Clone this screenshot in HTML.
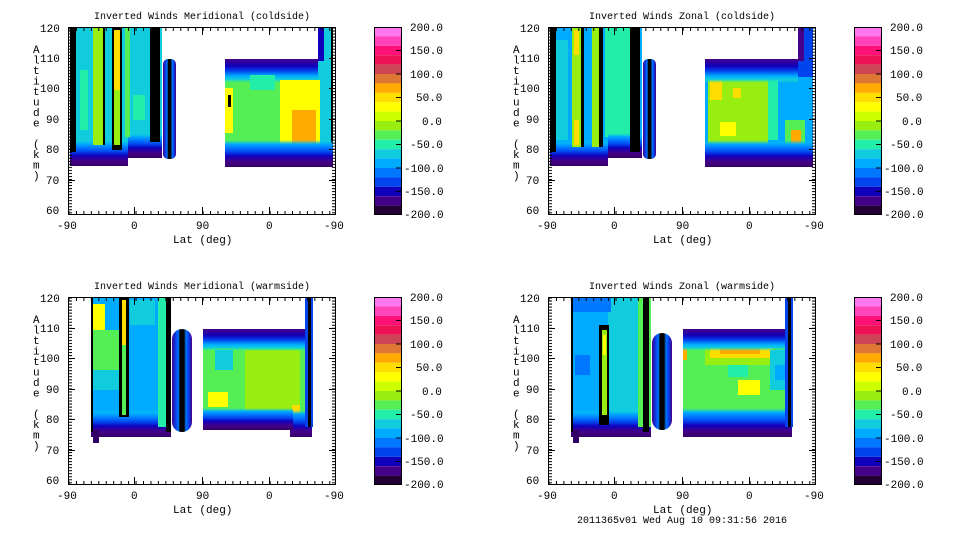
<!DOCTYPE html>
<html><head><meta charset="utf-8"><style>
html,body{margin:0;padding:0;background:#fff;}
svg{display:block;}
text{font-family:"Liberation Mono",monospace;font-size:10px;fill:#000;}
text.cb{font-size:11px;}
text.yl{font-size:11px;}
</style></head><body>
<svg width="960" height="540" viewBox="0 0 960 540" xmlns="http://www.w3.org/2000/svg">
<defs>
<linearGradient id="bot" x1="0" y1="0" x2="0" y2="1">
<stop offset="0" stop-color="#11ccdd" stop-opacity="0"/><stop offset="0.15" stop-color="#00aaff"/>
<stop offset="0.3" stop-color="#0077ff"/><stop offset="0.45" stop-color="#0044ee"/>
<stop offset="0.6" stop-color="#1100bb"/><stop offset="0.8" stop-color="#440088"/><stop offset="1" stop-color="#330066"/>
</linearGradient>
<linearGradient id="top" x1="0" y1="1" x2="0" y2="0">
<stop offset="0" stop-color="#22eeaa" stop-opacity="0"/><stop offset="0.15" stop-color="#11ccdd"/>
<stop offset="0.3" stop-color="#00aaff"/><stop offset="0.5" stop-color="#0044ee"/>
<stop offset="0.7" stop-color="#1100bb"/><stop offset="1" stop-color="#440088"/>
</linearGradient>
<linearGradient id="ell" x1="0" y1="0" x2="1" y2="0">
<stop offset="0" stop-color="#440088"/><stop offset="0.2" stop-color="#0044ee"/><stop offset="0.32" stop-color="#0077ff"/><stop offset="0.4" stop-color="#000"/>
<stop offset="0.6" stop-color="#000"/><stop offset="0.7" stop-color="#0077ff"/><stop offset="0.82" stop-color="#0044ee"/><stop offset="1" stop-color="#440088"/>
</linearGradient>
<pattern id="yt" x="0" y="27.5" width="4" height="3.03" patternUnits="userSpaceOnUse"><rect x="0" y="0" width="4" height="1" fill="#000"/></pattern>
<pattern id="xt" x="68.5" y="0" width="7.45" height="4" patternUnits="userSpaceOnUse"><rect x="0" y="0" width="1" height="4" fill="#000"/></pattern>
<g id="cbar">
<rect x="374" y="27" width="28" height="9.4" fill="#ff77ee"/>
<rect x="374" y="36.4" width="28" height="9.4" fill="#ff44bb"/>
<rect x="374" y="45.8" width="28" height="9.4" fill="#ff1177"/>
<rect x="374" y="55.2" width="28" height="9.4" fill="#ee1155"/>
<rect x="374" y="64.6" width="28" height="9.4" fill="#cc4455"/>
<rect x="374" y="74" width="28" height="9.4" fill="#dd7733"/>
<rect x="374" y="83.4" width="28" height="9.4" fill="#ffaa00"/>
<rect x="374" y="92.8" width="28" height="9.4" fill="#ffdd00"/>
<rect x="374" y="102.2" width="28" height="9.4" fill="#ffff00"/>
<rect x="374" y="111.6" width="28" height="9.4" fill="#ccff00"/>
<rect x="374" y="121" width="28" height="9.4" fill="#99ee11"/>
<rect x="374" y="130.4" width="28" height="9.4" fill="#55ee55"/>
<rect x="374" y="139.8" width="28" height="9.4" fill="#22eeaa"/>
<rect x="374" y="149.2" width="28" height="9.4" fill="#11ccdd"/>
<rect x="374" y="158.6" width="28" height="9.4" fill="#00aaff"/>
<rect x="374" y="168" width="28" height="9.4" fill="#0077ff"/>
<rect x="374" y="177.4" width="28" height="9.4" fill="#0044ee"/>
<rect x="374" y="186.8" width="28" height="9.4" fill="#1100bb"/>
<rect x="374" y="196.2" width="28" height="9.4" fill="#440088"/>
<rect x="374" y="205.6" width="28" height="9.4" fill="#220033"/>
<rect x="374.5" y="27.5" width="27" height="187" fill="none" stroke="#000"/>
<path d="M396 50.5h6M396 74h6M396 97.5h6M396 121h6M396 144.5h6M396 168h6M396 191.5h6" stroke="#000"/>
<text class="cb" x="410" y="31">200.0</text><text class="cb" x="410" y="54">150.0</text><text class="cb" x="410" y="78">100.0</text>
<text class="cb" x="416" y="101">50.0</text><text class="cb" x="422" y="125">0.0</text><text class="cb" x="410" y="148">-50.0</text>
<text class="cb" x="404" y="172">-100.0</text><text class="cb" x="404" y="195">-150.0</text><text class="cb" x="404" y="218">-200.0</text>
</g>
<g id="axes">
<rect x="68.5" y="27.5" width="267" height="187" fill="none" stroke="#000"/>
<rect x="68" y="27" width="4" height="188" fill="url(#yt)"/>
<rect x="332" y="27" width="4" height="188" fill="url(#yt)"/>
<rect x="68" y="27" width="268" height="4" fill="url(#xt)"/>
<rect x="68" y="211" width="268" height="4" fill="url(#xt)"/>
<path d="M68 58.5h7M68 88.5h7M68 119.5h7M68 149.5h7M68 180.5h7M329 58.5h7M329 88.5h7M329 119.5h7M329 149.5h7M329 180.5h7M134.5 207v8M202.5 207v8M269.5 207v8M134.5 27v8M202.5 27v8M269.5 27v8" stroke="#000"/>
<text class="yl" x="40" y="32">120</text><text class="yl" x="40" y="62">110</text><text class="yl" x="40" y="92">100</text>
<text class="yl" x="46" y="123">90</text><text class="yl" x="46" y="153">80</text><text class="yl" x="46" y="184">70</text><text class="yl" x="46" y="214">60</text>
<text class="yl" x="57" y="229">-90</text><text class="yl" x="131" y="229">0</text><text class="yl" x="196" y="229">90</text><text class="yl" x="266" y="229">0</text><text class="yl" x="324" y="229">-90</text>
<text class="yl" x="173" y="243">Lat (deg)</text>
<text class="yl" x="33" y="53">A<tspan x="33" dy="10.5">l</tspan><tspan x="33" dy="10.5">t</tspan><tspan x="33" dy="10.5">i</tspan><tspan x="33" dy="10.5">t</tspan><tspan x="33" dy="10.5">u</tspan><tspan x="33" dy="10.5">d</tspan><tspan x="33" dy="10.5">e</tspan><tspan x="33" dy="21">(</tspan><tspan x="33" dy="10.5">k</tspan><tspan x="33" dy="10.5">m</tspan><tspan x="33" dy="10.5">)</tspan></text>
</g>
</defs>

<!-- Panel 1 TL -->
<g>
<rect x="70" y="27" width="92" height="139" fill="#11ccdd"/>
<rect x="128" y="158" width="34" height="10" fill="#fff"/>
<rect x="70" y="140" width="58" height="26" fill="url(#bot)"/>
<rect x="128" y="133" width="34" height="25" fill="url(#bot)"/>
<rect x="70" y="27" width="6" height="125" fill="#000"/>
<rect x="80" y="70" width="8" height="60" fill="#22eeaa"/>
<rect x="93" y="27" width="10" height="118" fill="#99ee11"/>
<rect x="103" y="27" width="2" height="118" fill="#000"/>
<rect x="112" y="27" width="10" height="123" fill="#000"/>
<rect x="114" y="30" width="6" height="60" fill="#ffdd00"/>
<rect x="114" y="90" width="6" height="55" fill="#99ee11"/>
<rect x="125" y="27" width="5" height="110" fill="#55ee55"/>
<rect x="133" y="95" width="12" height="25" fill="#22eeaa"/>
<rect x="150" y="27" width="10" height="115" fill="#000"/>
<rect x="163" y="59" width="13" height="100" rx="5" fill="url(#ell)"/>
<rect x="225" y="59" width="93" height="108" fill="#55ee55"/>
<rect x="225" y="59" width="93" height="24" fill="url(#top)"/>
<rect x="318" y="27" width="15" height="140" fill="#11ccdd"/>
<rect x="318" y="27" width="6" height="34" fill="#1100bb"/>
<rect x="331" y="27" width="2" height="140" fill="#000"/>
<rect x="280" y="80" width="40" height="64" fill="#ffff00"/>
<rect x="292" y="110" width="24" height="35" fill="#ffaa00"/>
<rect x="225" y="88" width="8" height="45" fill="#ffff00"/>
<rect x="228" y="95" width="3" height="12" fill="#000"/>
<rect x="250" y="75" width="25" height="15" fill="#22eeaa"/>
<rect x="225" y="140" width="108" height="27" fill="url(#bot)"/>
<use href="#axes"/><use href="#cbar"/>
<text x="94" y="19">Inverted Winds Meridional (coldside)</text>
</g>

<!-- Panel 2 TR -->
<g transform="translate(480,0)">
<rect x="70" y="27" width="92" height="139" fill="#00aaff"/>
<rect x="128" y="158" width="34" height="10" fill="#fff"/>
<rect x="125" y="27" width="28" height="110" fill="#22eeaa"/>
<rect x="76" y="40" width="12" height="100" fill="#11ccdd"/>
<rect x="70" y="140" width="58" height="26" fill="url(#bot)"/>
<rect x="128" y="133" width="34" height="25" fill="url(#bot)"/>
<rect x="70" y="27" width="6" height="125" fill="#000"/>
<rect x="92" y="27" width="10" height="120" fill="#99ee11"/>
<rect x="94" y="30" width="5" height="25" fill="#ffdd00"/>
<rect x="94" y="120" width="5" height="25" fill="#ffdd00"/>
<rect x="101" y="27" width="3" height="120" fill="#000"/>
<rect x="112" y="27" width="10" height="120" fill="#99ee11"/>
<rect x="119" y="27" width="4" height="120" fill="#000"/>
<rect x="150" y="27" width="10" height="125" fill="#000"/>
<rect x="163" y="59" width="13" height="100" rx="5" fill="url(#ell)"/>
<rect x="225" y="59" width="108" height="108" fill="#00aaff"/>
<rect x="228" y="75" width="60" height="70" fill="#99ee11"/>
<rect x="288" y="80" width="10" height="60" fill="#22eeaa"/>
<rect x="230" y="80" width="12" height="20" fill="#ffdd00"/>
<rect x="240" y="122" width="16" height="14" fill="#ffff00"/>
<rect x="253" y="88" width="8" height="10" fill="#ffdd00"/>
<rect x="305" y="120" width="20" height="25" fill="#55ee55"/>
<rect x="311" y="130" width="10" height="16" fill="#ffaa00"/>
<rect x="225" y="59" width="93" height="24" fill="url(#top)"/>
<rect x="318" y="27" width="15" height="50" fill="#0044ee"/>
<rect x="318" y="27" width="6" height="34" fill="#440088"/>
<rect x="225" y="140" width="108" height="27" fill="url(#bot)"/>
<use href="#axes"/><use href="#cbar"/>
<text x="109" y="19">Inverted Winds Zonal (coldside)</text>
</g>

<!-- Panel 3 BL -->
<g transform="translate(0,270)">
<rect x="91" y="27" width="80" height="140" fill="#00aaff"/>
<rect x="91" y="60" width="30" height="40" fill="#55ee55"/>
<rect x="91" y="100" width="30" height="20" fill="#11ccdd"/>
<rect x="130" y="30" width="25" height="25" fill="#11ccdd"/>
<rect x="93" y="34" width="12" height="26" fill="#ffff00"/>
<rect x="91" y="140" width="80" height="27" fill="url(#bot)"/>
<rect x="93" y="160" width="6" height="13" fill="#330066"/>
<rect x="91" y="27" width="2" height="135" fill="#000"/>
<rect x="119" y="27" width="10" height="120" fill="#000"/>
<rect x="122" y="30" width="4" height="45" fill="#ffdd00"/>
<rect x="122" y="75" width="4" height="70" fill="#55ee55"/>
<rect x="158" y="27" width="13" height="130" fill="#22eeaa"/>
<rect x="166" y="27" width="5" height="135" fill="#000"/>
<rect x="172" y="59" width="20" height="103" rx="10" fill="url(#ell)"/>
<rect x="203" y="59" width="109" height="100" fill="#55ee55"/>
<rect x="245" y="80" width="55" height="60" fill="#99ee11"/>
<rect x="215" y="80" width="18" height="20" fill="#11ccdd"/>
<rect x="208" y="122" width="20" height="15" fill="#ffff00"/>
<rect x="292" y="135" width="8" height="8" fill="#ffdd00"/>
<rect x="203" y="59" width="109" height="22" fill="url(#top)"/>
<rect x="290" y="140" width="22" height="27" fill="url(#bot)"/>
<rect x="203" y="138" width="90" height="22" fill="url(#bot)"/>
<rect x="305" y="27" width="8" height="130" fill="#0044ee"/>
<rect x="308" y="27" width="3" height="130" fill="#000"/>
<use href="#axes"/><use href="#cbar"/>
<text x="94" y="19">Inverted Winds Meridional (warmside)</text>
</g>

<!-- Panel 4 BR -->
<g transform="translate(480,270)">
<rect x="91" y="27" width="80" height="140" fill="#00aaff"/>
<rect x="128" y="27" width="32" height="125" fill="#11ccdd"/>
<rect x="95" y="85" width="15" height="20" fill="#0077ff"/>
<rect x="91" y="27" width="40" height="15" fill="#0077ff"/>
<rect x="91" y="140" width="80" height="27" fill="url(#bot)"/>
<rect x="93" y="160" width="6" height="13" fill="#330066"/>
<rect x="91" y="27" width="2" height="135" fill="#000"/>
<rect x="119" y="55" width="10" height="100" fill="#000"/>
<rect x="122" y="60" width="5" height="85" fill="#99ee11"/>
<rect x="123" y="65" width="3" height="20" fill="#ffff00"/>
<rect x="158" y="27" width="13" height="130" fill="#55ee55"/>
<rect x="163" y="27" width="6" height="135" fill="#000"/>
<rect x="172" y="63" width="20" height="97" rx="10" fill="url(#ell)"/>
<rect x="203" y="59" width="109" height="108" fill="#55ee55"/>
<rect x="225" y="65" width="70" height="30" fill="#99ee11"/>
<rect x="230" y="70" width="62" height="18" fill="#ffdd00"/>
<rect x="240" y="72" width="40" height="12" fill="#ffaa00"/>
<rect x="203" y="70" width="4" height="20" fill="#ffaa00"/>
<rect x="258" y="110" width="22" height="15" fill="#ffff00"/>
<rect x="248" y="95" width="20" height="12" fill="#22eeaa"/>
<rect x="290" y="80" width="18" height="40" fill="#11ccdd"/>
<rect x="295" y="95" width="10" height="15" fill="#00aaff"/>
<rect x="203" y="59" width="109" height="22" fill="url(#top)"/>
<rect x="203" y="138" width="109" height="29" fill="url(#bot)"/>
<rect x="305" y="27" width="8" height="130" fill="#0044ee"/>
<rect x="308" y="27" width="3" height="130" fill="#000"/>
<use href="#axes"/><use href="#cbar"/>
<text x="109" y="19">Inverted Winds Zonal (warmside)</text>
<text x="97" y="253">2011365v01 Wed Aug 10 09:31:56 2016</text>
</g>
</svg>
</body></html>
